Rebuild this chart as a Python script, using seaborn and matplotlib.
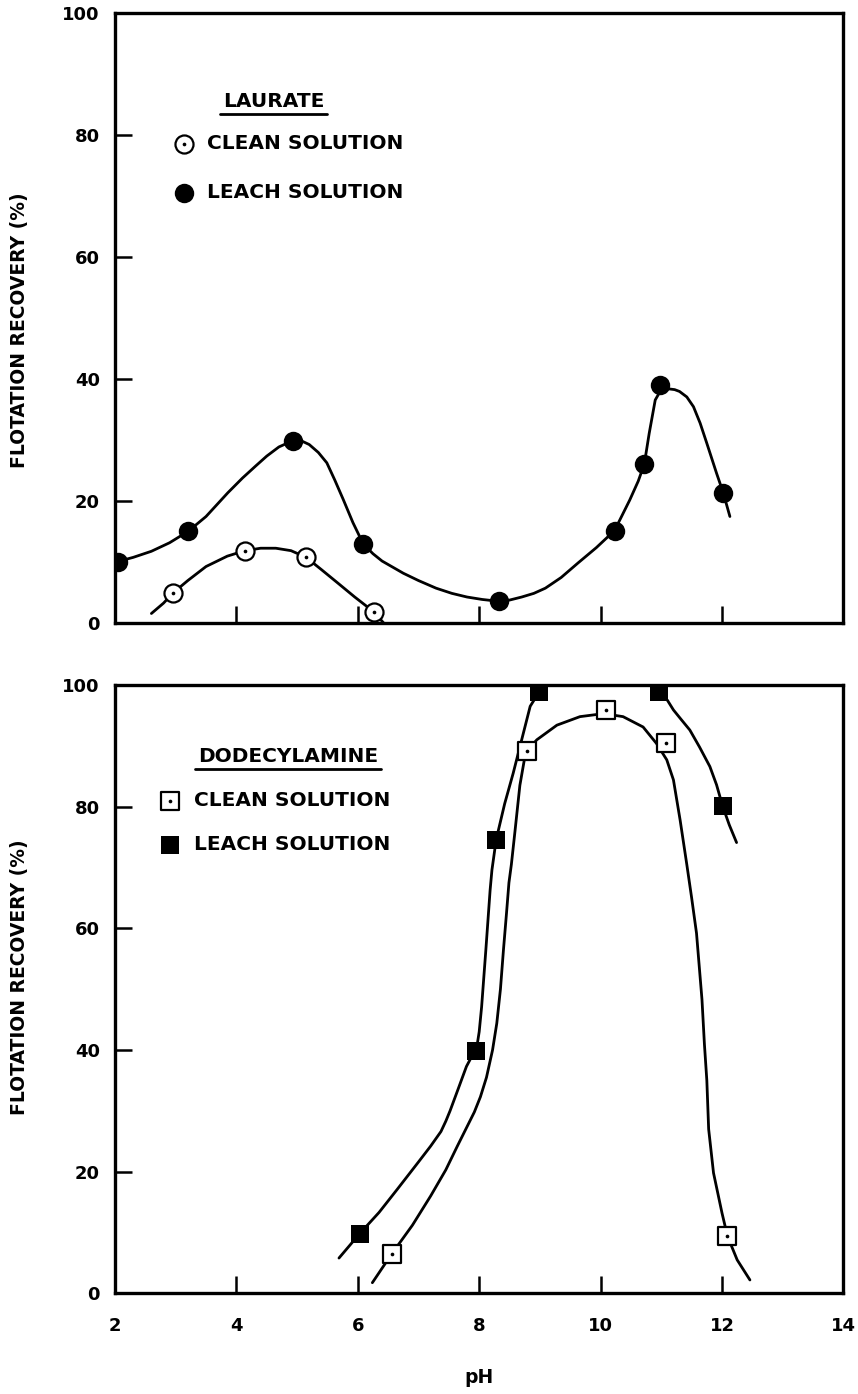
import matplotlib
matplotlib.use('Agg')
import numpy as np
import pandas as pd
import seaborn as sns
from matplotlib import pyplot as plt
from matplotlib.legend_handler import HandlerTuple

# measured points (pH, flotation recovery %)
LAU_CLEAN_PH = [2.96, 4.14, 5.15, 6.26]
LAU_CLEAN_REC = [5.0, 11.9, 10.8, 1.9]
LAU_LEACH_PH = [2.05, 3.21, 4.93, 6.09, 8.32, 10.23, 10.71, 10.98, 12.02]
LAU_LEACH_REC = [10.1, 15.1, 29.9, 13.0, 3.6, 15.2, 26.1, 39.1, 21.4]

DOD_CLEAN_PH = [6.56, 8.79, 10.09, 11.08, 12.09]
DOD_CLEAN_REC = [6.5, 89.2, 95.9, 90.4, 9.4]
DOD_LEACH_PH = [6.03, 7.95, 8.28, 8.99, 10.97, 12.01]
DOD_LEACH_REC = [9.8, 39.8, 74.6, 98.9, 98.9, 80.1]

# hand drawn curves
LAU_CLEAN_CURVE_PH = [2.6, 2.8, 2.96, 3.2, 3.5, 3.85, 4.14, 4.4, 4.65, 4.9,
                      5.15, 5.4, 5.67, 5.95, 6.26, 6.43]
LAU_CLEAN_CURVE_REC = [1.6, 3.3, 5.0, 7.0, 9.3, 11.0, 11.9, 12.3, 12.3, 11.9,
                       10.8, 8.8, 6.6, 4.3, 1.9, 0.0]
LAU_LEACH_CURVE_PH = [2.0, 2.3, 2.6, 2.9, 3.21, 3.5, 3.86, 4.1, 4.32, 4.5,
                      4.7, 4.9, 5.05, 5.2, 5.35, 5.49, 5.62, 5.76, 5.92, 6.09,
                      6.25, 6.4, 6.75, 7.0, 7.29, 7.55, 7.8, 8.05, 8.32, 8.5,
                      8.7, 8.9, 9.09, 9.35, 9.63, 9.93, 10.23, 10.48, 10.62,
                      10.72, 10.8, 10.9, 10.98, 11.06, 11.14, 11.22, 11.3,
                      11.42, 11.53, 11.64, 11.75, 11.91, 12.02, 12.13]
LAU_LEACH_CURVE_REC = [10.0, 10.8, 11.8, 13.2, 15.1, 17.5, 21.4, 23.8, 25.8, 27.4,
                       28.9, 29.8, 30.0, 29.3, 28.0, 26.3, 23.5, 20.3, 16.5, 13.0,
                       11.4, 10.2, 8.2, 7.0, 5.75, 4.9, 4.3, 3.9, 3.6, 3.8,
                       4.3, 4.9, 5.75, 7.5, 9.9, 12.4, 15.2, 20.2, 23.3,
                       26.1, 31.1, 36.6, 38.0, 38.4, 38.4, 38.3, 38.0,
                       37.1, 35.5, 32.8, 29.5, 24.6, 21.4, 17.5]

DOD_CLEAN_CURVE_PH = [6.24, 6.56, 6.9, 7.2, 7.45, 7.64, 7.82, 7.92, 8.02, 8.12,
                      8.22, 8.29, 8.35, 8.4, 8.45, 8.49, 8.53, 8.59, 8.67, 8.74,
                      8.79, 8.95, 9.28, 9.66, 10.05, 10.37, 10.7, 10.92, 11.09,
                      11.2, 11.31, 11.42, 11.5, 11.58, 11.67, 11.71, 11.75,
                      11.78, 11.86, 12.0, 12.09, 12.25, 12.46]
DOD_CLEAN_CURVE_REC = [1.75, 6.5, 11.2, 16.0, 20.3, 24.2, 27.8, 29.8, 32.3, 35.5,
                       40.0, 44.4, 50.0, 56.5, 62.5, 67.5, 70.5, 76.0, 83.5, 87.5,
                       89.2, 91.0, 93.4, 94.8, 95.3, 94.8, 93.1, 90.4, 87.7,
                       84.4, 77.8, 70.5, 65.0, 59.2, 48.3, 41.0, 35.0,
                       27.0, 19.8, 13.2, 9.4, 5.5, 2.2]
DOD_LEACH_CURVE_L_PH = [5.69, 6.03, 6.35, 6.65, 7.0, 7.2, 7.37, 7.45, 7.52,
                        7.65, 7.79, 7.87, 7.95, 8.0, 8.04, 8.11, 8.18, 8.21,
                        8.28, 8.42, 8.56, 8.7, 8.84, 8.99]
DOD_LEACH_CURVE_L_REC = [5.8, 9.8, 13.3, 17.1, 21.6, 24.2, 26.6, 28.3, 30.0,
                         33.5, 37.3, 38.8, 39.8, 43.0, 47.1, 56.5, 66.3, 69.6,
                         74.6, 80.5, 85.5, 91.0, 96.5, 98.9]
DOD_LEACH_CURVE_R_PH = [10.97, 11.1, 11.2, 11.33, 11.47, 11.63, 11.8, 11.91,
                        12.01, 12.12, 12.24]
DOD_LEACH_CURVE_R_REC = [98.9, 97.5, 95.9, 94.3, 92.6, 89.8, 86.6, 83.6,
                         80.1, 77.0, 74.1]

X_TICKS = [2, 4, 6, 8, 10, 12, 14]
Y_TICKS = [0, 20, 40, 60, 80, 100]
YLABEL = 'FLOTATION RECOVERY (%)'
XLABEL = 'pH'
LABELS = ['CLEAN SOLUTION', 'LEACH SOLUTION']


def curve_frame(segments):
    parts = []
    for i, (ph, rec) in enumerate(segments):
        parts.append(pd.DataFrame({'ph': ph, 'rec': rec, 'seg': i}))
    return pd.concat(parts, ignore_index=True)


def plot_panel(ax, clean, leach, curves, marker, size, title, title_pos,
               leg_anchor, spacing):
    df = curve_frame(curves)
    sns.lineplot(data=df, x='ph', y='rec', units='seg', estimator=None,
                 sort=False, color='black', lw=2.0, ax=ax)

    sns.scatterplot(x=clean[0], y=clean[1], marker=marker, s=size**2,
                    facecolor='white', edgecolor='black', linewidth=1.6,
                    zorder=3, ax=ax)
    h_open = ax.collections[-1]
    sns.scatterplot(x=clean[0], y=clean[1], marker='o', s=7, color='black',
                    linewidth=0, zorder=4, ax=ax)
    h_dot = ax.collections[-1]
    sns.scatterplot(x=leach[0], y=leach[1], marker=marker, s=(size + 1)**2,
                    color='black', linewidth=0, zorder=3, ax=ax)
    h_fill = ax.collections[-1]

    ax.set_xlim(2, 14)
    ax.set_ylim(0, 100)
    ax.set_xticks(X_TICKS)
    ax.set_yticks(Y_TICKS)
    ax.tick_params(direction='in', length=12, width=1.8, labelsize=13,
                   color='black', labelcolor='black')
    ax.tick_params(axis='y', pad=11)
    ax.tick_params(axis='x', pad=17)
    for sp in ax.spines.values():
        sp.set_linewidth(2.4)
        sp.set_color('black')
        sp.set_visible(True)

    ax.legend([(h_open, h_dot), h_fill], LABELS,
              handler_map={tuple: HandlerTuple(ndivide=1)},
              loc='center left', bbox_to_anchor=leg_anchor, frameon=False,
              borderpad=0, borderaxespad=0, handlelength=1.0,
              handletextpad=0.66, labelspacing=spacing,
              prop={'size': 14.5, 'weight': 'bold'})

    t = ax.text(title_pos[0], title_pos[1], title, transform=ax.transAxes,
                ha='center', va='center', fontsize=14.5, fontweight='bold',
                color='black')
    return t


sns.set_style('ticks')
plt.rcParams['font.family'] = ['DejaVu Sans']
plt.rcParams['font.weight'] = 'bold'
plt.rcParams['axes.labelweight'] = 'bold'
plt.rcParams['text.color'] = 'black'
plt.rcParams['axes.labelcolor'] = 'black'

fig = plt.figure(figsize=(8.58, 13.94), dpi=100)
ax1 = fig.add_axes([0.134, 0.5529, 0.849, 0.4376])
ax2 = fig.add_axes([0.134, 0.0722, 0.849, 0.4364])

t1 = plot_panel(ax1, (LAU_CLEAN_PH, LAU_CLEAN_REC), (LAU_LEACH_PH, LAU_LEACH_REC),
                [(LAU_LEACH_CURVE_PH, LAU_LEACH_CURVE_REC),
                 (LAU_CLEAN_CURVE_PH, LAU_CLEAN_CURVE_REC)],
                'o', 13.0, 'LAURATE', (0.218, 0.855), (0.0807, 0.7464), 1.5)
t2 = plot_panel(ax2, (DOD_CLEAN_PH, DOD_CLEAN_REC), (DOD_LEACH_PH, DOD_LEACH_REC),
                [(DOD_LEACH_CURVE_L_PH, DOD_LEACH_CURVE_L_REC),
                 (DOD_LEACH_CURVE_R_PH, DOD_LEACH_CURVE_R_REC),
                 (DOD_CLEAN_CURVE_PH, DOD_CLEAN_CURVE_REC)],
                's', 12.5, 'DODECYLAMINE', (0.238, 0.882), (0.0622, 0.774), 1.25)

ax1.tick_params(axis='x', labelbottom=False)
ax1.set_xlabel('')
ax1.set_ylabel(YLABEL, fontsize=13.5, fontweight='bold')
ax2.set_ylabel(YLABEL, fontsize=13.5, fontweight='bold')
ax2.set_xlabel(XLABEL, fontsize=13.5, fontweight='bold')
ax1.yaxis.set_label_coords(-0.118, 0.48)
ax2.yaxis.set_label_coords(-0.118, 0.52)
ax2.xaxis.set_label_coords(0.5, -0.122)

# underline the legend titles
fig.canvas.draw()
renderer = fig.canvas.get_renderer()
for ax, t in ((ax1, t1), (ax2, t2)):
    bb = t.get_window_extent(renderer).transformed(ax.transAxes.inverted())
    ax.plot([bb.x0 - 0.004, bb.x1 + 0.004], [bb.y0 - 0.004] * 2,
            transform=ax.transAxes, color='black', lw=2.0, clip_on=False)

fig.savefig('out.png', dpi=100)
